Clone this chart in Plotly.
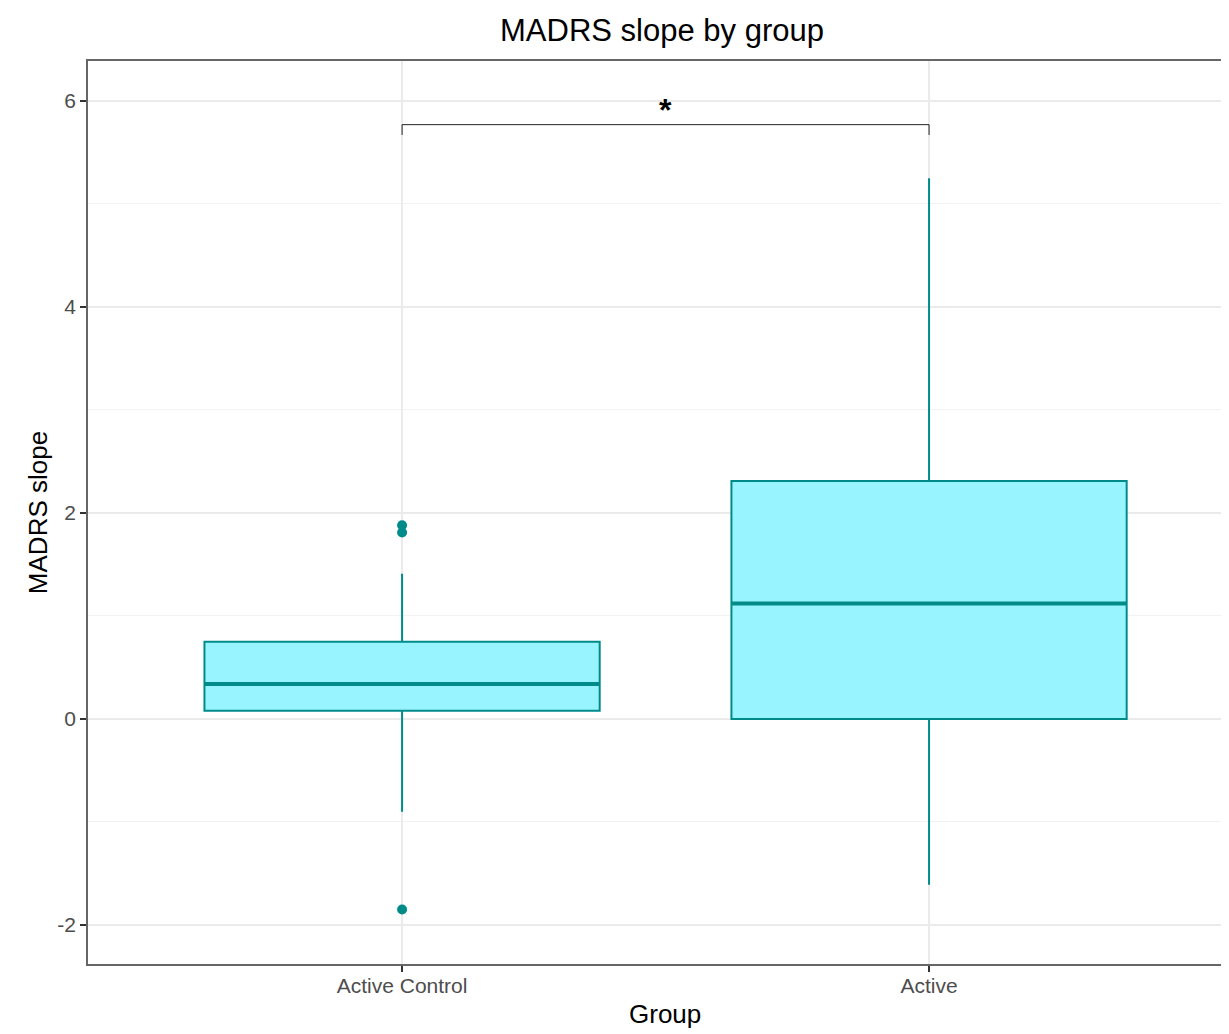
import plotly.graph_objects as go

# ---- data ----
groups = ["Active Control", "Active"]
positions = [0, 1]
q1 = [0.08, 0.00]
median = [0.34, 1.12]
q3 = [0.75, 2.31]
lower_whisker = [-0.90, -1.61]
upper_whisker = [1.41, 5.25]
outlier_group = [0, 0, 0]
outlier_values = [1.88, 1.81, -1.85]
bracket_x = [0, 0, 1, 1]
bracket_y = [5.67, 5.77, 5.77, 5.67]
sig_label = "*"
y_ticks = [-2, 0, 2, 4, 6]
y_tick_text = ["-2", "0", "2", "4", "6"]
y_minor = [-1, 1, 3, 5]

BOX_WIDTH = 0.75
LINE = "#008B8B"
FILL = "#98F5FF"
FONT = "Liberation Sans, Arial, Helvetica, sans-serif"

W, H = 1213, 1026
ML, MT, MB = 80, 53, 70

fig = go.Figure()

fig.add_trace(go.Box(
    x=positions, q1=q1, median=median, q3=q3,
    lowerfence=lower_whisker, upperfence=upper_whisker,
    width=BOX_WIDTH, whiskerwidth=0,
    fillcolor=FILL, line=dict(color=LINE, width=2),
    boxpoints=False, showlegend=False, hoverinfo="skip",
))

# thicker median lines (ggplot fatten)
for p, m in zip(positions, median):
    fig.add_trace(go.Scatter(
        x=[p - BOX_WIDTH / 2, p + BOX_WIDTH / 2], y=[m, m],
        mode="lines", line=dict(color=LINE, width=4),
        showlegend=False, hoverinfo="skip",
    ))

fig.add_trace(go.Scatter(
    x=outlier_group, y=outlier_values, mode="markers",
    marker=dict(color=LINE, size=10),
    showlegend=False, hoverinfo="skip",
))

fig.add_trace(go.Scatter(
    x=bracket_x, y=bracket_y, mode="lines",
    line=dict(color="#222222", width=1),
    showlegend=False, hoverinfo="skip",
))

fig.add_annotation(
    x=sum(positions) / 2, y=max(bracket_y), text="<b>" + sig_label + "</b>",
    showarrow=False, yanchor="bottom", yshift=-5,
    font=dict(family=FONT, size=32, color="black"),
)

# x-axis title (centred on the full, partly cropped panel)
plot_w = W - ML
plot_h = H - MT - MB
fig.add_annotation(
    xref="paper", yref="paper",
    x=(657 - ML) / plot_w, y=-(1006 - (H - MB)) / plot_h,
    text="Group", showarrow=False, xanchor="center", yanchor="middle",
    font=dict(family=FONT, size=26, color="black"),
)

fig.update_layout(
    width=W, height=H,
    margin=dict(l=ML, r=0, t=MT, b=MB),
    paper_bgcolor="white", plot_bgcolor="white",
    font=dict(family=FONT),
    title=dict(text="MADRS slope by group", x=654 / W, xanchor="center",
               y=1 - 22 / H, yanchor="middle",
               font=dict(family=FONT, size=31, color="black")),
)

fig.update_xaxes(
    range=[-0.596, 1.554], tickvals=positions, ticktext=groups,
    showgrid=True, gridcolor="#EBEBEB", gridwidth=1.5,
    zeroline=False, showline=True, linecolor="#666666", linewidth=1.5, mirror=True,
    ticks="outside", ticklen=6, tickwidth=1.5, tickcolor="#333333",
    ticklabelstandoff=-4,
    tickfont=dict(family=FONT, size=21, color="#4D4D4D"),
)

fig.update_yaxes(
    range=[-2.379, 6.388], tickvals=y_ticks, ticktext=y_tick_text,
    showgrid=True, gridcolor="#EBEBEB", gridwidth=1.5,
    minor=dict(tickvals=y_minor, showgrid=True, gridcolor="#F2F2F2", gridwidth=1, ticks=""),
    zeroline=False, showline=True, linecolor="#666666", linewidth=1.5,
    ticks="outside", ticklen=6, tickwidth=1.5, tickcolor="#333333",
    tickfont=dict(family=FONT, size=21, color="#4D4D4D"),
    title=dict(text="MADRS slope", font=dict(family=FONT, size=26, color="black"), standoff=2),
)

fig.write_html("out.html")
